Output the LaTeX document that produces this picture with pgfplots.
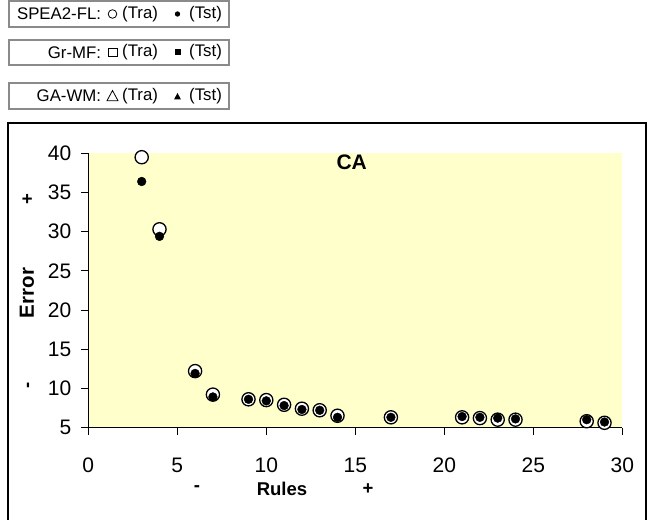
\documentclass[border=0pt]{standalone}
\usepackage{fontspec}
\setmainfont{Liberation Sans}
\usepackage{pgfplots}
\pgfplotsset{compat=1.18}
\definecolor{bgyellow}{HTML}{FFFFCC}
\definecolor{boxgray}{HTML}{8A8A8A}
\newcommand{\lgfont}{\fontsize{16.8}{19}\selectfont}
\newcommand{\lbfont}{\fontsize{18.5}{21}\selectfont\bfseries}
\begin{document}
\begin{tikzpicture}
\path[use as bounding box] (-88.3pt,-91.5pt) rectangle (563.7pt,427.5pt);

% outer chart frame
\draw[black, line width=1.1pt] (-80.3pt,-100pt) -- (-80.3pt,304.5pt) -- (557.7pt,304.5pt) -- (557.7pt,-100pt);

% legend boxes
\draw[boxgray, line width=1.2pt] (-79.3pt,426.5pt) rectangle (140.7pt,400.5pt);
\draw[boxgray, line width=1.2pt] (-79.3pt,387.5pt) rectangle (140.7pt,362.5pt);
\draw[boxgray, line width=1.2pt] (-79.3pt,344.5pt) rectangle (140.7pt,318.5pt);

\node[anchor=east, inner sep=0pt, font=\lgfont] at (13pt,413.5pt) {SPEA2-FL:};
\draw[black, line width=0.8pt] (24.2pt,413.5pt) circle (4.3pt);
\node[anchor=west, inner sep=0pt, font=\lgfont] at (33.7pt,413.5pt) {(Tra)};
\fill[black] (89.2pt,413.5pt) circle (2.7pt);
\node[anchor=west, inner sep=0pt, font=\lgfont] at (100.7pt,413.5pt) {(Tst)};

\node[anchor=east, inner sep=0pt, font=\lgfont] at (13pt,375pt) {Gr-MF:};
\draw[black, line width=0.8pt] (19.8pt,370.6pt) rectangle (28.6pt,379.4pt);
\node[anchor=west, inner sep=0pt, font=\lgfont] at (33.7pt,375pt) {(Tra)};
\fill[black] (86.2pt,372pt) rectangle (92.2pt,378pt);
\node[anchor=west, inner sep=0pt, font=\lgfont] at (100.7pt,375pt) {(Tst)};

\node[anchor=east, inner sep=0pt, font=\lgfont] at (13pt,331.5pt) {GA-WM:};
\draw[black, line width=0.8pt] (18.7pt,326.8pt) -- (29.7pt,326.8pt) -- (24.2pt,337pt) -- cycle;
\node[anchor=west, inner sep=0pt, font=\lgfont] at (33.7pt,331.5pt) {(Tra)};
\fill[black] (85.7pt,328pt) -- (92.7pt,328pt) -- (89.2pt,334.5pt) -- cycle;
\node[anchor=west, inner sep=0pt, font=\lgfont] at (100.7pt,331.5pt) {(Tst)};

\begin{axis}[
    at={(0pt,0pt)}, anchor=south west,
    scale only axis,
    width=534pt, height=274.2pt,
    xmin=0, xmax=30, ymin=5, ymax=40,
    axis x line=bottom, axis y line=left,
    axis line style={-, black, line width=0.8pt},
    every tick/.style={black, line width=0.8pt},
    tick align=outside, major tick length=7pt,
    xtick={0,5,...,30}, ytick={5,10,...,40},
    axis background/.style={fill=bgyellow},
    tick label style={font=\fontsize{21}{24}\selectfont},
    yticklabel style={xshift=-6.5pt},
    xticklabel style={yshift=-20pt},
    /pgf/number format/assume math mode=true,
    clip=false,
]
\addplot[only marks, mark=*, mark size=6.6pt, mark options={fill=white, draw=black, line width=1.3pt}]
coordinates {(3,39.5) (4,30.3) (6,12.2) (7,9.2) (9,8.6) (10,8.5) (11,7.9) (12,7.4) (13,7.2) (14,6.5) (17,6.3) (21,6.3) (22,6.2) (23,6.0) (24,6.0) (28,5.8) (29,5.6)};
\addplot[only marks, mark=*, mark size=4.4pt, mark options={fill=black, draw=black}]
coordinates {(3,36.4) (4,29.4) (6,11.9) (7,8.9) (9,8.6) (10,8.4) (11,7.8) (12,7.3) (13,7.2) (14,6.3) (17,6.3) (21,6.4) (22,6.3) (23,6.2) (24,6.1) (28,6.0) (29,5.7)};
\node[font=\fontsize{21}{24}\selectfont\bfseries] at (axis cs:14.8,38.9) {CA};
\end{axis}

% axis labels
\node[font=\fontsize{20.5}{23}\selectfont\bfseries, rotate=90] at (-61.3pt,134.5pt) {Error};
\node[font=\lbfont, rotate=90] at (-60.3pt,228.5pt) {+};
\node[font=\lbfont, rotate=90] at (-58.3pt,42.5pt) {-};
\node[font=\lbfont] at (193.7pt,-61.5pt) {Rules};
\node[font=\lbfont] at (108.7pt,-61.5pt) {-};
\node[font=\lbfont] at (279.7pt,-61.5pt) {+};
\end{tikzpicture}
\end{document}
